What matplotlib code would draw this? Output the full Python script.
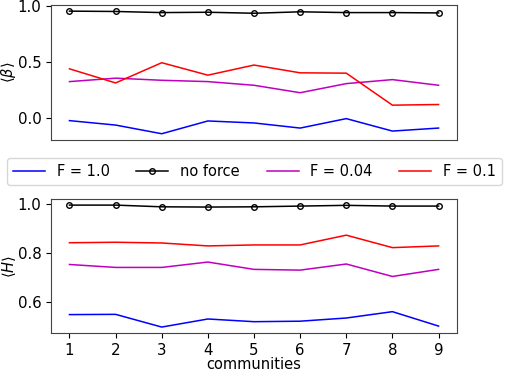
import matplotlib
matplotlib.use("Agg")
import matplotlib.pyplot as plt
import numpy as np

communities = [1, 2, 3, 4, 5, 6, 7, 8, 9]

# <beta>
beta_f10 = [-0.027, -0.067, -0.145, -0.030, -0.048, -0.094, -0.009, -0.121, -0.094]
beta_noforce = [0.958, 0.955, 0.945, 0.948, 0.939, 0.952, 0.945, 0.945, 0.942]
beta_f004 = [0.324, 0.355, 0.336, 0.324, 0.291, 0.224, 0.306, 0.342, 0.291]
beta_f01 = [0.439, 0.312, 0.494, 0.382, 0.473, 0.403, 0.400, 0.112, 0.118]

# <H>
h_f10 = [0.548, 0.549, 0.497, 0.530, 0.519, 0.521, 0.534, 0.560, 0.501]
h_noforce = [0.996, 0.996, 0.989, 0.988, 0.989, 0.992, 0.995, 0.992, 0.992]
h_f004 = [0.753, 0.741, 0.741, 0.763, 0.733, 0.730, 0.755, 0.704, 0.733]
h_f01 = [0.842, 0.844, 0.841, 0.829, 0.833, 0.833, 0.873, 0.822, 0.829]

plt.rcParams['font.size'] = 10.5
plt.rcParams['xtick.labelsize'] = 10.8
plt.rcParams['ytick.labelsize'] = 10.8
fig = plt.figure(figsize=(5.05, 3.71), dpi=100)
ax1 = fig.add_axes([0.101, 0.623, 0.804, 0.3635])
ax2 = fig.add_axes([0.101, 0.102, 0.804, 0.3616])

lw = 1.1
mk = dict(marker='o', markersize=4, markerfacecolor='none', markeredgecolor='black')

for ax, f10, nf, f004, f01 in [(ax1, beta_f10, beta_noforce, beta_f004, beta_f01),
                               (ax2, h_f10, h_noforce, h_f004, h_f01)]:
    ax.plot(communities, f10, color='blue', lw=lw, label='F = 1.0')
    ax.plot(communities, nf, color='black', lw=lw, label='no force', **mk)
    ax.plot(communities, f004, color='m', lw=lw, label='F = 0.04')
    ax.plot(communities, f01, color='red', lw=lw, label='F = 0.1')
    for s in ax.spines.values():
        s.set_color('#444444')

ax1.set_xticks([])
ax1.set_yticks([0.0, 0.5, 1.0])
ax1.set_ylabel(r'$\langle\beta\rangle$')
ax1.yaxis.set_label_coords(-0.082, 0.5)

ax2.set_xticks(communities)
ax2.set_yticks([0.6, 0.8, 1.0])
ax2.set_ylabel(r'$\langle H\rangle$')
ax2.yaxis.set_label_coords(-0.082, 0.5)
ax2.set_xlabel('communities')
ax2.xaxis.set_label_coords(0.5, -0.175)

handles, labels = ax1.get_legend_handles_labels()
fig.legend(handles, labels, ncol=4, mode='expand', loc='lower left',
           bbox_to_anchor=(0.014, 0.501, 0.98, 0.078), borderaxespad=0,
           handlelength=2.2)

fig.savefig('out.png', dpi=100)
